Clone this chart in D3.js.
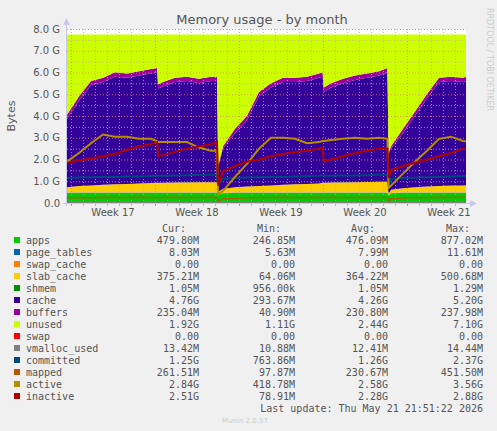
<!DOCTYPE html>
<html>
<head>
<meta charset="utf-8">
<script src="https://cdn.jsdelivr.net/npm/d3@7"></script>
<style>
body { margin: 0; background: #f0f0f0; }
svg { display: block; }
text { font-family: "DejaVu Sans", sans-serif; }
.mono { font-family: "DejaVu Sans Mono", monospace; font-size: 10px; fill: #555; }
</style>
</head>
<body>
<svg id="chart" width="497" height="431"></svg>
<script>
// time in days since left edge of graph; values in GB
var days = [0,1,2,3,4,5,6,7,7.5,7.6,8,9,10,11,12,12.5,12.6,13,14,15,16,17,18,19,20,21,21.3,21.4,22,23,24,25,26,26.7,26.8,27,28,29,30,31,32,33,33.25];
var apps = [0.47,0.47,0.47,0.47,0.47,0.47,0.47,0.47,0.47,0.47,0.47,0.47,0.47,0.47,0.47,0.47,0.4,0.45,0.47,0.47,0.47,0.47,0.47,0.47,0.47,0.47,0.47,0.47,0.47,0.47,0.47,0.47,0.47,0.47,0.35,0.45,0.47,0.47,0.47,0.47,0.47,0.47,0.47];
var pageTables = [0.008,0.008,0.008,0.008,0.008,0.008,0.008,0.008,0.008,0.008,0.008,0.008,0.008,0.008,0.008,0.008,0.006,0.007,0.008,0.008,0.008,0.008,0.008,0.008,0.008,0.008,0.008,0.008,0.008,0.008,0.008,0.008,0.008,0.008,0.006,0.007,0.008,0.008,0.008,0.008,0.008,0.008,0.008];
var swapCache = [0,0,0,0,0,0,0,0,0,0,0,0,0,0,0,0,0,0,0,0,0,0,0,0,0,0,0,0,0,0,0,0,0,0,0,0,0,0,0,0,0,0,0];
var slabCache = [0.25,0.3,0.33,0.36,0.38,0.4,0.42,0.44,0.45,0.45,0.45,0.46,0.47,0.48,0.48,0.48,0.1,0.2,0.25,0.28,0.3,0.33,0.36,0.38,0.4,0.42,0.45,0.45,0.46,0.47,0.48,0.49,0.5,0.5,0.06,0.15,0.2,0.25,0.28,0.3,0.32,0.33,0.34];
var shmem = [0.001,0.001,0.001,0.001,0.001,0.001,0.001,0.001,0.001,0.001,0.001,0.001,0.001,0.001,0.001,0.001,0.001,0.001,0.001,0.001,0.001,0.001,0.001,0.001,0.001,0.001,0.001,0.001,0.001,0.001,0.001,0.001,0.001,0.001,0.001,0.001,0.001,0.001,0.001,0.001,0.001,0.001,0.001];
var cache = [3.13,3.93,4.6,4.72,4.95,4.88,4.96,5.04,5.08,4.33,4.43,4.62,4.66,4.55,4.65,4.65,1.15,1.85,2.48,3.05,4.13,4.5,4.72,4.7,4.73,4.86,4.88,4.18,4.37,4.56,4.7,4.79,4.88,5.03,1.84,1.9,2.53,3.28,4.05,4.78,4.81,4.75,4.79];
var buffers = [0.2,0.2,0.2,0.2,0.2,0.2,0.2,0.2,0.2,0.2,0.2,0.2,0.2,0.2,0.2,0.2,0.05,0.1,0.2,0.2,0.2,0.2,0.2,0.2,0.2,0.2,0.2,0.2,0.2,0.2,0.2,0.2,0.2,0.2,0.05,0.1,0.2,0.2,0.2,0.2,0.2,0.2,0.2];
var totalMem = 7.75;
var swap = [0,0,0,0,0,0,0,0,0,0,0,0,0,0,0,0,0,0,0,0,0,0,0,0,0,0,0,0,0,0,0,0,0,0,0,0,0,0,0,0,0,0,0];
var vmalloc = [0.013,0.013,0.013,0.013,0.013,0.013,0.013,0.013,0.013,0.013,0.013,0.013,0.013,0.013,0.013,0.013,0.011,0.012,0.013,0.013,0.013,0.013,0.013,0.013,0.013,0.013,0.013,0.013,0.013,0.013,0.013,0.013,0.013,0.013,0.011,0.012,0.013,0.013,0.013,0.013,0.013,0.013,0.013];
var committed = [1.15,1.17,1.18,1.2,1.2,1.22,1.22,1.24,1.25,1.25,1.25,1.27,1.28,1.3,1.3,1.3,0.8,1.12,1.15,1.17,1.18,1.2,1.2,1.22,1.23,1.25,1.27,1.25,1.25,1.26,1.27,1.28,1.3,1.3,0.8,1.1,1.15,1.16,1.18,1.2,1.22,1.24,1.25];
var mapped = [0.24,0.25,0.24,0.26,0.25,0.25,0.26,0.25,0.25,0.24,0.25,0.26,0.25,0.25,0.26,0.25,0.1,0.2,0.22,0.24,0.25,0.25,0.26,0.25,0.25,0.26,0.25,0.25,0.26,0.25,0.25,0.26,0.25,0.25,0.1,0.2,0.23,0.25,0.25,0.26,0.25,0.26,0.26];
var active = [1.9,2.3,2.75,3.15,3.05,3.05,2.95,2.95,2.85,2.8,2.8,2.8,2.8,2.55,2.4,2.4,0.4,0.55,1.2,1.8,2.5,3.0,3.0,2.95,2.75,2.8,2.85,2.85,2.9,2.95,3.0,2.95,3.0,2.95,0.7,0.8,1.35,1.9,2.4,2.95,3.05,2.85,2.84];
var inactive = [1.85,1.95,2.05,2.15,2.25,2.45,2.6,2.7,2.8,2.15,2.2,2.35,2.5,2.6,2.7,2.8,0.8,1.45,1.7,1.9,2.0,2.15,2.25,2.35,2.4,2.5,2.55,1.9,2.0,2.15,2.3,2.4,2.5,2.5,1.15,1.5,1.7,1.85,2.0,2.15,2.3,2.5,2.5];

var yTicks = ["0.0", "1.0 G", "2.0 G", "3.0 G", "4.0 G", "5.0 G", "6.0 G", "7.0 G", "8.0 G"];
var weekLabels = ["Week 17", "Week 18", "Week 19", "Week 20", "Week 21"];
var weekStarts = [0.333, 7.333, 14.333, 21.333, 28.333];

var legendNames = ["apps","page_tables","swap_cache","slab_cache","shmem","cache","buffers","unused","swap","vmalloc_used","committed","mapped","active","inactive"];
var legendColors = ["#00CC00","#0066B3","#FF8000","#FFCC00","#008F00","#330099","#990099","#CCFF00","#FF0000","#808080","#00487D","#B35A00","#B38F00","#B30000"];
var curVals = ["479.80M","8.03M","0.00","375.21M","1.05M","4.76G","235.04M","1.92G","0.00","13.42M","1.25G","261.51M","2.84G","2.51G"];
var minVals = ["246.85M","5.63M","0.00","64.06M","956.00k","293.67M","40.90M","1.11G","0.00","10.88M","763.86M","97.87M","418.78M","78.91M"];
var avgVals = ["476.09M","7.99M","0.00","364.22M","1.05M","4.26G","230.80M","2.44G","0.00","12.41M","1.26G","230.67M","2.58G","2.28G"];
var maxVals = ["877.02M","11.61M","0.00","500.68M","1.29M","5.20G","237.98M","7.10G","0.00","14.44M","2.37G","451.50M","3.56G","2.88G"];

var svg = d3.select("#chart");
var x = d3.scaleLinear().domain([0, 33.25]).range([67, 466]);
var y = d3.scaleLinear().domain([0, 8]).range([203, 29]);

// plot background
svg.append("rect").attr("x", 67).attr("y", 29).attr("width", 399).attr("height", 174).attr("fill", "#fff");

// stacked areas
var rows = days.map(function (d, i) {
    var used = apps[i] + pageTables[i] + swapCache[i] + slabCache[i] + shmem[i] + cache[i] + buffers[i];
    return { d: d, apps: apps[i], page_tables: pageTables[i], swap_cache: swapCache[i], slab_cache: slabCache[i],
        shmem: shmem[i], cache: cache[i], buffers: buffers[i], unused: totalMem - used, swap: swap[i] };
});
var keys = ["apps","page_tables","swap_cache","slab_cache","shmem","cache","buffers","unused","swap"];
var stack = d3.stack().keys(keys)(rows);
var area = d3.area()
    .x(function (d) { return x(d.data.d); })
    .y0(function (d) { return y(d[0]); })
    .y1(function (d) { return y(d[1]); });
svg.append("g").selectAll("path").data(stack).enter().append("path")
    .attr("d", area)
    .attr("fill", function (d, i) { return legendColors[i]; });

// grid
var grid = svg.append("g");
d3.range(0, 8.01, 0.5).forEach(function (v) {
    var major = Math.abs(v % 1) < 0.01;
    grid.append("line").attr("x1", 67).attr("x2", 466).attr("y1", y(v) + 0.5).attr("y2", y(v) + 0.5)
        .attr("stroke", major ? "#e08080" : "#c8a0c8").attr("stroke-dasharray", "1,2").attr("stroke-opacity", 0.8);
});
d3.range(0.333, 33.25, 1).forEach(function (v, i) {
    var major = i % 7 === 0;
    grid.append("line").attr("y1", 29).attr("y2", 203).attr("x1", Math.round(x(v)) + 0.5).attr("x2", Math.round(x(v)) + 0.5)
        .attr("stroke", major ? "#e08080" : "#c8a0c8").attr("stroke-dasharray", "1,2").attr("stroke-opacity", 0.8);
    svg.append("line").attr("y1", 203).attr("y2", 206).attr("x1", Math.round(x(v)) + 0.5).attr("x2", Math.round(x(v)) + 0.5)
        .attr("stroke", major ? "#e08080" : "#bbb");
});

// lines
var lineSeries = [vmalloc, committed, mapped, active, inactive];
var line = d3.line();
lineSeries.forEach(function (s, k) {
    svg.append("path")
        .attr("d", line(days.map(function (d, i) { return [x(d), y(s[i])]; })))
        .attr("fill", "none").attr("stroke", legendColors[9 + k]).attr("stroke-width", k === 2 ? 1.5 : 2);
});

// axes
svg.append("line").attr("x1", 66.5).attr("x2", 66.5).attr("y1", 25).attr("y2", 206).attr("stroke", "#c8c8e8");
svg.append("line").attr("x1", 63).attr("x2", 470).attr("y1", 203.5).attr("y2", 203.5).attr("stroke", "#c8c8e8");
svg.append("path").attr("d", "M63,25 L66.5,18 L70,25 Z").attr("fill", "#c8c8f0");
svg.append("path").attr("d", "M470,200 L477,203.5 L470,207 Z").attr("fill", "#c8c8f0");

yTicks.forEach(function (t, i) {
    svg.append("text").attr("x", 60).attr("y", y(i) + 3.5).attr("text-anchor", "end")
        .attr("font-size", 10).attr("fill", "#555").text(t);
});
weekLabels.forEach(function (t, i) {
    svg.append("text").attr("x", x(weekStarts[i] + 3.5)).attr("y", 216).attr("text-anchor", "middle")
        .attr("font-size", 10).attr("fill", "#555").text(t);
});

svg.append("text").attr("x", 262).attr("y", 24).attr("text-anchor", "middle")
    .attr("font-size", 13).attr("fill", "#555").text("Memory usage - by month");
svg.append("text").attr("transform", "translate(15,116) rotate(-90)").attr("text-anchor", "middle")
    .attr("font-size", 11).attr("fill", "#555").text("Bytes");
svg.append("text").attr("transform", "translate(487,8) rotate(90)").attr("text-anchor", "start")
    .attr("font-size", 8).attr("fill", "#ccc").text("RRDTOOL / TOBI OETIKER");

// legend
svg.append("text").attr("class", "mono").attr("x", 186).attr("y", 232).attr("text-anchor", "end").text("Cur:");
svg.append("text").attr("class", "mono").attr("x", 281).attr("y", 232).attr("text-anchor", "end").text("Min:");
svg.append("text").attr("class", "mono").attr("x", 375).attr("y", 232).attr("text-anchor", "end").text("Avg:");
svg.append("text").attr("class", "mono").attr("x", 470).attr("y", 232).attr("text-anchor", "end").text("Max:");
legendNames.forEach(function (n, i) {
    var yy = 240 + i * 12;
    svg.append("rect").attr("x", 14).attr("y", yy - 3).attr("width", 6).attr("height", 6).attr("fill", legendColors[i]);
    svg.append("text").attr("class", "mono").attr("x", 26).attr("y", yy + 3.5).text(n);
    [[199, curVals], [295, minVals], [388, avgVals], [483, maxVals]].forEach(function (c) {
        svg.append("text").attr("class", "mono").attr("x", c[0]).attr("y", yy + 3.5).attr("text-anchor", "end").text(c[1][i]);
    });
});
svg.append("text").attr("class", "mono").attr("x", 483).attr("y", 412).attr("text-anchor", "end")
    .text("Last update: Thu May 21 21:51:22 2026");
svg.append("text").attr("x", 245).attr("y", 423).attr("text-anchor", "middle")
    .attr("font-size", 7).attr("fill", "#ccc").text("Munin 2.0.57");
</script>
</body>
</html>
